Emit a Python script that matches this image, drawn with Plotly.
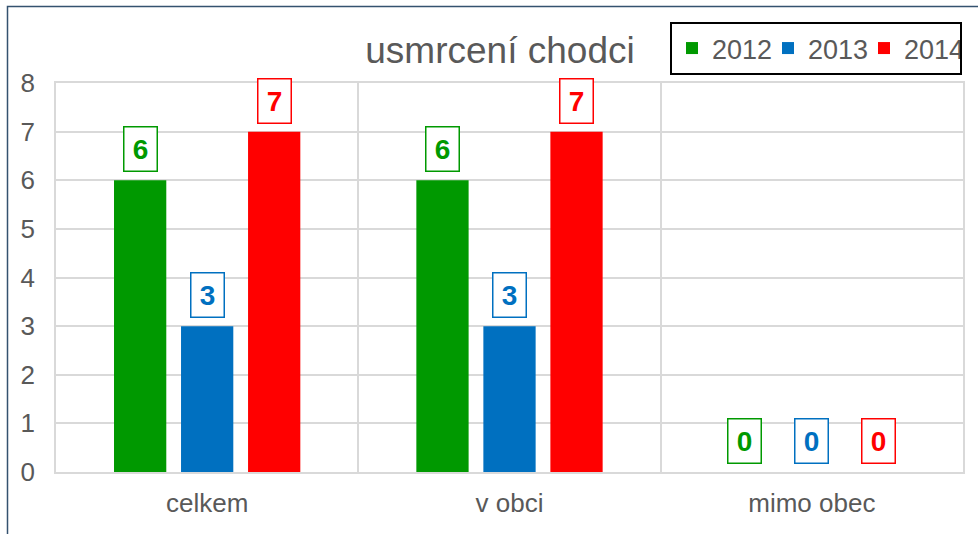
import plotly.graph_objects as go

categories = ["celkem", "v obci", "mimo obec"]
years = ["2012", "2013", "2014"]
values_2012 = [6, 6, 0]
values_2013 = [3, 3, 0]
values_2014 = [7, 7, 0]
series = [values_2012, values_2013, values_2014]
colors = ["#009900", "#0070C0", "#FF0000"]

W, H = 978, 534
ml, mr, mt, mb = 56, 15, 83, 62
plot_w = W - ml - mr
plot_h = H - mt - mb
bargap = 0.335
slot_px = plot_w / len(categories) * (1 - bargap) / len(years)

fig = go.Figure()
for i, (year, vals) in enumerate(zip(years, series)):
    fig.add_trace(go.Bar(x=categories, y=vals, name=year, marker=dict(color=colors[i], line=dict(width=0))))
    for cat, v in zip(categories, vals):
        fig.add_annotation(
            x=cat, y=v, xref="x", yref="y",
            text=f"<b>{v}</b>", showarrow=False,
            xshift=(i - 1) * slot_px, yanchor="bottom", yshift=8,
            font=dict(size=28, color=colors[i], family="Liberation Sans, Arial"),
            bordercolor=colors[i], borderwidth=1.5, borderpad=6, bgcolor="white",
            width=20, height=31,
        )

# outer chart frame
fig.add_shape(type="rect", xref="paper", yref="paper",
              x0=(7.5 - ml) / plot_w, x1=1.2,
              y0=-0.5, y1=(H - mb - 6.5) / plot_h,
              line=dict(color="#34526F", width=1.5), layer="below")

fig.update_layout(
    width=W, height=H,
    margin=dict(l=ml, r=mr, t=mt, b=mb, autoexpand=False),
    paper_bgcolor="white", plot_bgcolor="white",
    font=dict(family="Liberation Sans, Arial", color="#595959"),
    title=dict(text="usmrcení chodci", x=500 / W, xanchor="center", y=1 - 50 / H, yanchor="middle",
               font=dict(size=37, color="#595959"), automargin=False),
    barmode="group", bargap=bargap, bargroupgap=0.22,
    showlegend=True,
    legend=dict(orientation="h", x=(670 - ml) / plot_w, y=(H - mb - 22) / plot_h,
                xanchor="left", yanchor="top", bordercolor="black", borderwidth=2,
                font=dict(size=27, color="#595959"), bgcolor="white",
                itemwidth=30, entrywidth=51, tracegroupgap=0),
    xaxis=dict(tickson="boundaries", showgrid=True, gridcolor="#D9D9D9", gridwidth=1.5,
               showline=True, linecolor="#D9D9D9", linewidth=1.5, mirror=True, automargin=False,
               ticks="", tickfont=dict(size=26, color="#595959"), ticklabelstandoff=7),
    yaxis=dict(range=[0, 8], dtick=1, showgrid=True, gridcolor="#D9D9D9", gridwidth=1.5,
               showline=True, linecolor="#D9D9D9", linewidth=1.5, mirror=True, automargin=False,
               zeroline=False, ticks="", tickfont=dict(size=26, color="#595959"),
               ticklabelstandoff=14),
)

fig.write_html("out.html", config={"displayModeBar": False},
               post_script="document.body.style.margin='0';")
